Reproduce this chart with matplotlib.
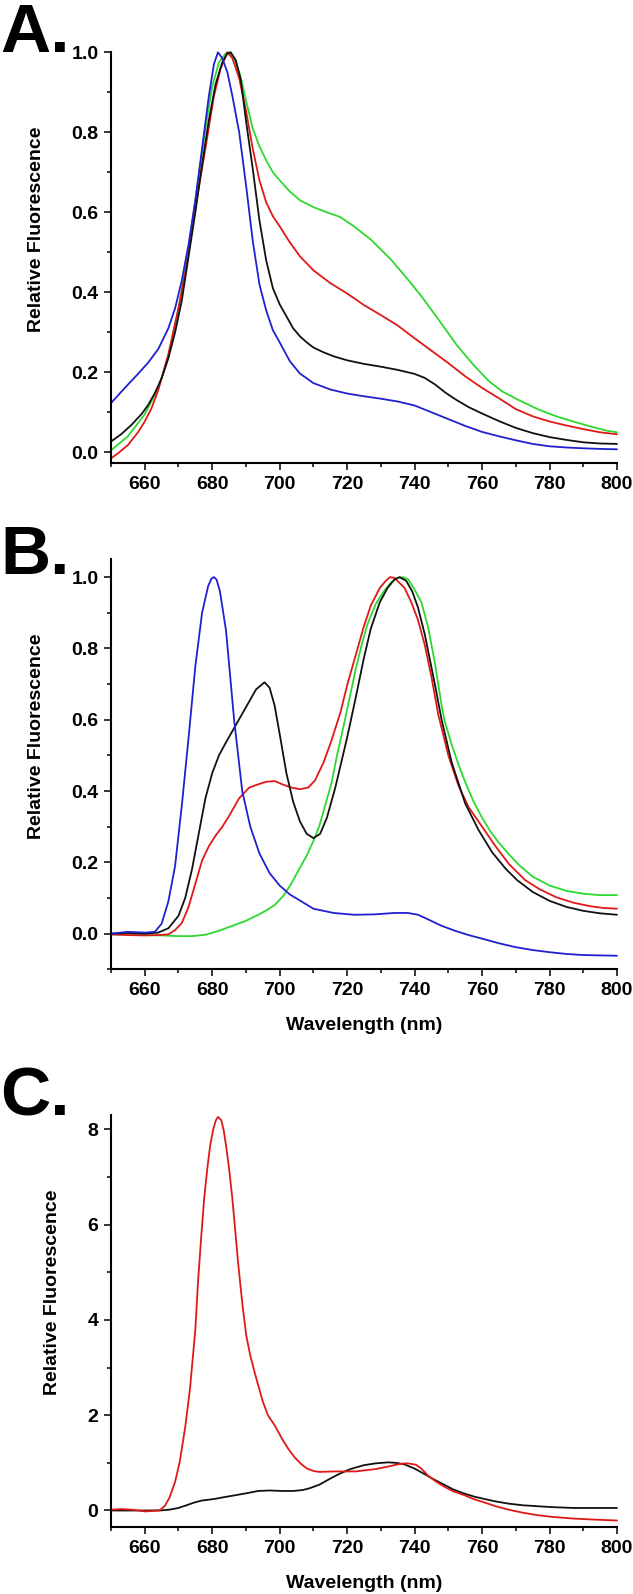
import matplotlib
matplotlib.use("Agg")
import matplotlib.pyplot as plt
from matplotlib.ticker import MultipleLocator, FormatStrFormatter

plt.rcParams['font.family'] = ['Liberation Sans', 'DejaVu Sans']
plt.rcParams['font.weight'] = 'bold'

# ---------------- Panel A data ----------------
a_blue_x = [650, 654, 658, 661, 664, 667, 669, 671, 673, 675, 677, 679, 680.5, 681.7, 683, 684.5, 686, 688, 690, 692, 694, 696, 698, 700, 703, 706, 710, 715, 720, 725, 730, 735, 740, 745, 750, 755, 760, 765, 770, 775, 780, 785, 790, 795, 800]
a_blue_y = [0.123, 0.160, 0.196, 0.224, 0.258, 0.31, 0.36, 0.43, 0.52, 0.63, 0.76, 0.89, 0.97, 1.0, 0.985, 0.95, 0.89, 0.80, 0.67, 0.53, 0.42, 0.355, 0.305, 0.275, 0.228, 0.197, 0.173, 0.157, 0.147, 0.140, 0.134, 0.127, 0.117, 0.100, 0.083, 0.066, 0.051, 0.040, 0.030, 0.021, 0.015, 0.012, 0.010, 0.0085, 0.0075]

a_black_x = [650, 653, 656, 659, 661, 663, 665, 667, 669, 671, 673, 675, 677, 679, 681, 683, 684.5, 685.5, 687, 688.5, 690, 692, 694, 696, 698, 700, 702, 704, 706, 708, 710, 713, 716, 720, 725, 730, 735, 740, 743, 746, 749, 752, 756, 760, 765, 770, 775, 780, 785, 790, 795, 800]
a_black_y = [0.027, 0.045, 0.068, 0.095, 0.118, 0.148, 0.185, 0.235, 0.30, 0.38, 0.49, 0.60, 0.72, 0.83, 0.92, 0.975, 0.997, 1.0, 0.98, 0.93, 0.83, 0.71, 0.58, 0.48, 0.41, 0.37, 0.34, 0.31, 0.29, 0.275, 0.262, 0.25, 0.24, 0.23, 0.221, 0.214, 0.206, 0.196, 0.186, 0.17, 0.15, 0.133, 0.113, 0.097, 0.078, 0.061, 0.048, 0.038, 0.031, 0.025, 0.022, 0.021]

a_red_x = [650, 652, 655, 658, 660, 662, 664, 667, 670, 672.5, 675, 678, 680.5, 682.5, 684.5, 686, 688, 690, 692, 694, 696, 698, 700, 703, 706, 710, 715, 720, 725, 730, 735, 740, 745, 750, 755, 760, 765, 770, 775, 780, 785, 790, 795, 800]
a_red_y = [-0.015, -0.003, 0.018, 0.05, 0.077, 0.11, 0.155, 0.245, 0.36, 0.47, 0.61, 0.76, 0.89, 0.96, 1.0, 0.985, 0.935, 0.855, 0.76, 0.68, 0.625, 0.59, 0.565, 0.525, 0.49, 0.455, 0.423, 0.397, 0.368, 0.343, 0.317, 0.285, 0.254, 0.223, 0.19, 0.161, 0.135, 0.108, 0.09, 0.077, 0.067, 0.058, 0.05, 0.045]

a_green_x = [650, 655, 660, 664, 667, 670, 672.5, 675, 678, 680, 682, 684, 685, 686.5, 688.3, 690, 692, 694, 696, 698, 700, 703, 706, 710, 714, 718, 722, 727, 733, 738, 742.5, 747.5, 752.5, 757.5, 762, 766, 771, 777, 782, 787, 792, 797, 800]
a_green_y = [0.005, 0.04, 0.095, 0.16, 0.24, 0.36, 0.48, 0.63, 0.81, 0.915, 0.975, 0.997, 1.0, 0.985, 0.943, 0.88, 0.81, 0.765, 0.73, 0.70, 0.68, 0.652, 0.63, 0.613, 0.60, 0.588, 0.565, 0.532, 0.482, 0.432, 0.385, 0.327, 0.268, 0.218, 0.178, 0.152, 0.13, 0.106, 0.09, 0.077, 0.065, 0.054, 0.05]

# ---------------- Panel B data ----------------
b_blue_x = [650, 655, 660, 663, 665, 667, 669, 671, 673, 675, 677, 678.8, 679.8, 680.5, 681.3, 682.3, 684.1, 686.5, 688.9, 691.3, 694, 697, 700, 703, 706, 710, 716, 722, 728, 734, 738, 741, 744, 748, 752, 756, 760, 765, 770, 775, 780, 785, 790, 795, 800]
b_blue_y = [0.0, 0.005, 0.003, 0.005, 0.028, 0.09, 0.19, 0.36, 0.55, 0.75, 0.90, 0.975, 0.996, 1.0, 0.993, 0.96, 0.85, 0.60, 0.40, 0.30, 0.225, 0.17, 0.135, 0.11, 0.093, 0.07, 0.058, 0.053, 0.054, 0.058, 0.058, 0.053, 0.04, 0.022, 0.008, -0.004, -0.014, -0.027, -0.038, -0.046, -0.052, -0.057, -0.06, -0.061, -0.062]

b_black_x = [650, 655, 660, 664, 667, 670, 672, 674, 676, 678, 680, 682, 684, 687, 690, 693, 695.5, 697, 698.5, 700, 702, 704, 706, 708, 710, 712, 714, 716.5, 720, 722.5, 724.9, 727, 729.7, 732, 734, 735.5, 737.5, 739.3, 741, 743, 746, 748, 751, 755, 759, 763, 767, 770.4, 775, 780, 785, 790, 795, 800]
b_black_y = [0.0, 0.002, 0.0, 0.003, 0.015, 0.05, 0.10, 0.18, 0.28, 0.38, 0.45, 0.50, 0.535, 0.585, 0.635, 0.685, 0.705, 0.69, 0.64, 0.56, 0.45, 0.37, 0.315, 0.28, 0.268, 0.28, 0.325, 0.41, 0.55, 0.66, 0.77, 0.855, 0.93, 0.97, 0.993, 1.0, 0.99, 0.96, 0.915, 0.84, 0.70, 0.60, 0.48, 0.365, 0.29, 0.228, 0.182, 0.15, 0.117, 0.092, 0.075, 0.064, 0.057, 0.053]

b_red_x = [650, 655, 660, 664, 667, 669, 671, 673, 675, 677, 679, 681, 683, 685, 688, 691, 694, 696, 698.5, 701, 703.3, 706, 708.5, 710.5, 713, 715.3, 718, 720.1, 722.5, 724.9, 727, 729.7, 731.5, 732.7, 734, 737, 739, 741, 743, 745, 747, 750, 753, 756, 760, 764, 768, 772.8, 777, 782, 787, 792, 796, 800]
b_red_y = [-0.002, -0.004, -0.005, -0.004, -0.002, 0.01, 0.03, 0.075, 0.14, 0.205, 0.245, 0.275, 0.30, 0.33, 0.38, 0.41, 0.42, 0.426, 0.428, 0.418, 0.41, 0.405, 0.41, 0.43, 0.48, 0.54, 0.62, 0.70, 0.78, 0.86, 0.92, 0.97, 0.99, 1.0, 0.998, 0.97, 0.93, 0.88, 0.81, 0.72, 0.615, 0.50, 0.415, 0.355, 0.30, 0.245, 0.195, 0.15, 0.125, 0.102, 0.087, 0.077, 0.072, 0.07]

b_green_x = [650, 655, 660, 665, 670, 674, 678, 682, 686, 690, 693.7, 696, 698.5, 701, 703.3, 706, 708.1, 710, 711.7, 713.5, 715.3, 717, 718.9, 720.7, 722.5, 724.3, 726.1, 728.5, 730.9, 733, 734.7, 736.3, 738, 740, 742, 744, 746, 748, 748.8, 751, 753, 755, 757.5, 760, 762.6, 765, 768, 771, 775, 780, 785, 790, 795, 800]
b_green_y = [-0.002, -0.003, -0.004, -0.005, -0.007, -0.007, -0.003, 0.008, 0.022, 0.036, 0.053, 0.065, 0.08, 0.105, 0.138, 0.185, 0.22, 0.26, 0.30, 0.36, 0.42, 0.50, 0.58, 0.66, 0.74, 0.81, 0.87, 0.925, 0.96, 0.985, 0.997, 1.0, 0.995, 0.965, 0.93, 0.86, 0.76, 0.64, 0.60, 0.53, 0.475, 0.425, 0.37, 0.325, 0.285, 0.255, 0.222, 0.192, 0.16, 0.135, 0.12, 0.112, 0.108, 0.108]

# ---------------- Panel C data ----------------
c_red_x = [650, 653, 656.6, 660.2, 664.4, 666, 667.4, 669, 670.4, 672, 673.4, 675, 675.8, 676.7, 677.6, 678.5, 679.4, 680.3, 681.1, 681.7, 682.7, 683.4, 684.1, 685, 685.9, 686.8, 687.7, 689, 690.1, 691.3, 692.5, 694.9, 696.5, 698.5, 700.9, 702.7, 704.5, 706.3, 708.1, 710, 711.7, 716.5, 722.5, 728.5, 732, 734.5, 736.5, 738, 740.4, 742, 744, 746.5, 748.8, 751.5, 754.8, 757.5, 760.8, 764, 768, 772, 776.4, 781, 787.2, 793, 800]
c_red_y = [0.015, 0.03, 0.015, -0.02, 0.0, 0.1, 0.28, 0.6, 1.03, 1.75, 2.54, 3.8, 4.8, 5.7, 6.53, 7.15, 7.66, 8.0, 8.19, 8.26, 8.19, 7.98, 7.66, 7.18, 6.6, 5.9, 5.18, 4.3, 3.67, 3.25, 2.92, 2.31, 2.0, 1.79, 1.48, 1.28, 1.11, 0.98, 0.88, 0.83, 0.81, 0.82, 0.82, 0.87, 0.92, 0.96, 0.985, 0.99, 0.96, 0.88, 0.73, 0.6, 0.50, 0.40, 0.32, 0.24, 0.166, 0.09, 0.015, -0.045, -0.098, -0.135, -0.17, -0.19, -0.21]

c_black_x = [650, 660, 665, 667.5, 669.8, 672, 674.6, 677, 680.5, 683.5, 686.5, 690, 693.7, 697, 700.9, 704, 706.9, 709, 711.7, 714.5, 717.7, 721, 724.9, 728.5, 732.1, 734.5, 736.9, 740, 742.8, 745.5, 748.8, 751.5, 754.8, 757.5, 760.8, 764, 768, 772, 776.4, 781, 787.2, 793, 800]
c_black_y = [0.0, 0.0, 0.003, 0.02, 0.05, 0.1, 0.166, 0.21, 0.24, 0.28, 0.316, 0.36, 0.41, 0.42, 0.41, 0.41, 0.43, 0.47, 0.54, 0.65, 0.77, 0.87, 0.95, 0.99, 1.01, 1.0, 0.97, 0.88, 0.77, 0.66, 0.54, 0.44, 0.354, 0.295, 0.24, 0.19, 0.143, 0.11, 0.09, 0.07, 0.053, 0.053, 0.053]

panel_labels = ["A.", "B.", "C."]
y_label = "Relative Fluorescence"
x_label = "Wavelength (nm)"

BLUE = '#2020d0'
RED = '#e01818'
GREEN = '#2ed82e'
BLACK = '#111111'

W, H = 633, 1594
fig = plt.figure(figsize=(W / 100, H / 100), dpi=100)

def axes_box(top_px, bottom_px):
    return [111 / W, 1 - bottom_px / H, 506 / W, (bottom_px - top_px) / H]

axA = fig.add_axes(axes_box(52.3, 462.7))
axB = fig.add_axes(axes_box(559.3, 969.3))
axC = fig.add_axes(axes_box(1115, 1526.7))

def style(ax, ymin, ymax, ymaj, ymin_step, fmt):
    ax.set_xlim(650, 800)
    ax.set_ylim(ymin, ymax)
    for s in ['top', 'right']:
        ax.spines[s].set_visible(False)
    for s in ['left', 'bottom']:
        ax.spines[s].set_linewidth(1.5)
    ax.xaxis.set_major_locator(MultipleLocator(20))
    ax.xaxis.set_minor_locator(MultipleLocator(10))
    ax.yaxis.set_major_locator(MultipleLocator(ymaj))
    ax.yaxis.set_minor_locator(MultipleLocator(ymin_step))
    ax.yaxis.set_major_formatter(FormatStrFormatter(fmt))
    ax.tick_params(which='major', direction='out', length=5, width=1.1, labelsize=14)
    ax.tick_params(which='minor', direction='out', length=3, width=1.1)
    ax.tick_params(axis='x', which='major', pad=4.5)
    ax.tick_params(axis='y', which='major', pad=4)
    for lab in ax.get_xticklabels() + ax.get_yticklabels():
        lab.set_fontweight('bold')

style(axA, -0.026, 1.0, 0.2, 0.1, '%.1f')
style(axB, -0.1, 1.05, 0.2, 0.1, '%.1f')
style(axC, -0.34, 8.3, 2, 1, '%d')

lw = 1.3
kw = dict(lw=lw, clip_on=False, solid_joinstyle='round', solid_capstyle='round')
axA.plot(a_green_x, a_green_y, color=GREEN, **kw)
axA.plot(a_red_x, a_red_y, color=RED, **kw)
axA.plot(a_black_x, a_black_y, color=BLACK, **kw)
axA.plot(a_blue_x, a_blue_y, color=BLUE, **kw)

axB.plot(b_green_x, b_green_y, color=GREEN, **kw)
axB.plot(b_red_x, b_red_y, color=RED, **kw)
axB.plot(b_black_x, b_black_y, color=BLACK, **kw)
axB.plot(b_blue_x, b_blue_y, color=BLUE, **kw)

axC.plot(c_black_x, c_black_y, color=BLACK, **kw)
axC.plot(c_red_x, c_red_y, color=RED, **kw)

for ax, lx, ly in [(axA, -0.148, 0.569), (axB, -0.148, 0.569), (axC, -0.115, 0.570)]:
    ax.set_ylabel(y_label, fontsize=14, fontweight='bold', va='center', ha='center')
    ax.yaxis.set_label_coords(lx, ly)

for ax in (axB, axC):
    ax.set_xlabel(x_label, fontsize=14, fontweight='bold', va='top')
    ax.xaxis.set_label_coords(0.5, -0.117)

for lab, base_px in zip(panel_labels, [52, 574, 1115]):
    fig.text(0.0, 1 - base_px / H, lab, fontsize=50, fontweight='bold',
             ha='left', va='baseline')

fig.savefig('out.png', dpi=100)
